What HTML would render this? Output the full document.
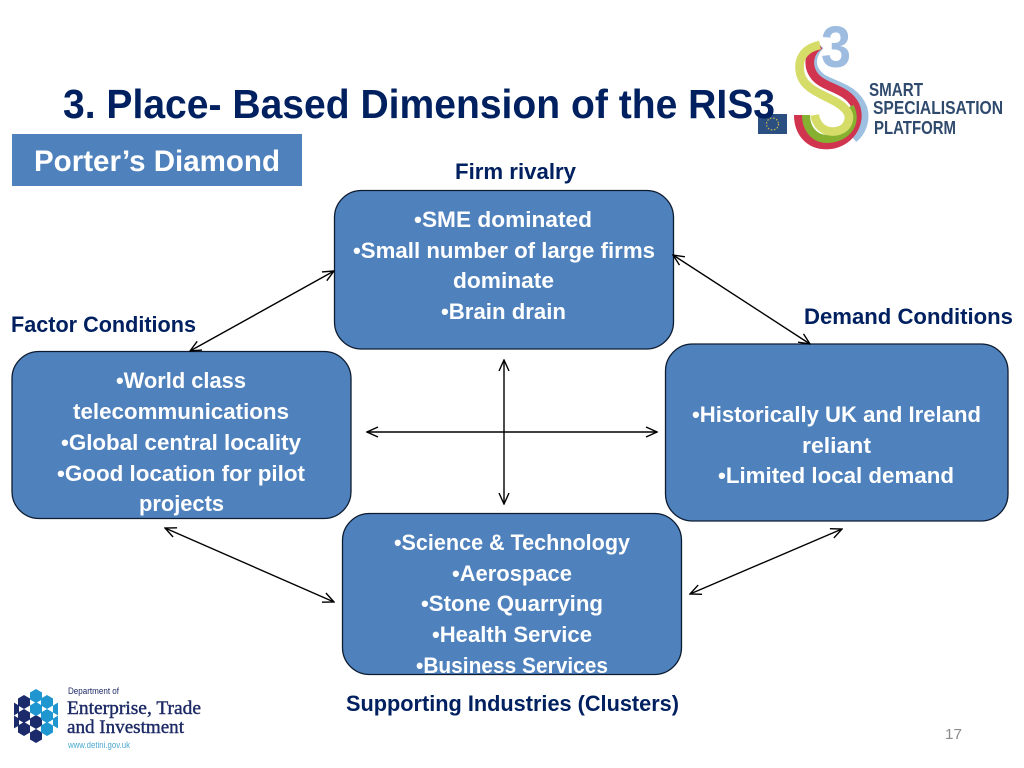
<!DOCTYPE html>
<html><head><meta charset="utf-8"><style>
html,body{margin:0;padding:0;background:#fff}
svg{display:block}
text{font-family:"Liberation Sans",sans-serif}
.b{font-weight:bold;font-size:22px;fill:#fff}
.l{font-weight:bold;font-size:22px;fill:#002060}
.box{fill:#4f81bd;stroke:#0d1c30;stroke-width:1.3}
.a{stroke:#000;stroke-width:1.4;fill:none;marker-start:url(#m);marker-end:url(#m)}
</style></head><body>
<svg width="1024" height="768" viewBox="0 0 1024 768" xmlns="http://www.w3.org/2000/svg">
<defs>
<marker id="m" viewBox="-12 -6 13 12" refX="0" refY="0" markerWidth="13" markerHeight="12" markerUnits="userSpaceOnUse" orient="auto-start-reverse">
<path d="M-11 -5 L0 0 L-11 5" fill="none" stroke="#000" stroke-width="1.4"/>
</marker>
<polygon id="h" points="0,-7 6,-3.5 6,3.5 0,7 -6,3.5 -6,-3.5"/>
<clipPath id="hc"><rect x="14" y="685" width="44" height="60"/></clipPath>
</defs>
<rect width="1024" height="768" fill="#fff"/>

<!-- S3 logo -->
<text x="821" y="67" font-size="58" font-weight="bold" fill="#9dbce0" textLength="30" lengthAdjust="spacingAndGlyphs">3</text>
<g transform="translate(740 10) scale(.33333)" fill="none">
<path d="M240 105 C212 135 205 175 245 205 C285 230 345 235 368 295 C378 330 365 365 340 385" stroke="#9dbfe0" stroke-width="28"/>
<path d="M240 105 C205 125 200 170 225 200 C255 235 320 235 345 285 C370 340 325 405 260 405 C205 405 175 365 175 315" stroke="#d0344f" stroke-width="26"/>
<path d="M330 290 C355 340 320 385 262 387 C222 387 198 355 198 315" stroke="#86b02f" stroke-width="24"/>
<path d="M240 105 C190 115 170 150 182 195 C195 240 255 255 295 280 C325 300 335 320 320 345 C300 375 235 375 224 315" stroke="#d6dc68" stroke-width="26"/>
</g>
<rect x="758" y="114" width="29" height="20" fill="#2b4f81"/>
<circle cx="772.500" cy="124" r="6" fill="none" stroke="#c9b84a" stroke-width="1.200" stroke-dasharray="1.500 1.700"/>
<g font-weight="bold" font-size="18" fill="#2f4a6d">
<text x="869" y="96" textLength="54" lengthAdjust="spacingAndGlyphs">SMART</text>
<text x="873" y="114" textLength="130" lengthAdjust="spacingAndGlyphs">SPECIALISATION</text>
<text x="874" y="134" textLength="82" lengthAdjust="spacingAndGlyphs">PLATFORM</text>
</g>

<!-- Title -->
<text x="63" y="118" font-size="41" font-weight="bold" fill="#002060" textLength="712" lengthAdjust="spacingAndGlyphs">3. Place- Based Dimension of the RIS3</text>

<rect x="12" y="134" width="290" height="52" fill="#4f81bd"/>
<text x="34" y="171" font-size="30" font-weight="bold" fill="#fff" textLength="246" lengthAdjust="spacingAndGlyphs">Porter’s Diamond</text>

<!-- Boxes -->
<rect class="box" x="334.500" y="190.500" width="339" height="158.500" rx="27"/>
<rect class="box" x="12" y="351.500" width="339" height="167" rx="27"/>
<rect class="box" x="665.500" y="344" width="342.500" height="177" rx="27"/>
<rect class="box" x="342.500" y="513.500" width="339" height="161" rx="27"/>

<!-- Box text -->
<text class="b" x="414" y="227" textLength="178" lengthAdjust="spacingAndGlyphs">•SME dominated</text>
<text class="b" x="353" y="258" textLength="302" lengthAdjust="spacingAndGlyphs">•Small number of large firms</text>
<text class="b" x="453" y="288" textLength="101" lengthAdjust="spacingAndGlyphs">dominate</text>
<text class="b" x="441" y="319" textLength="125" lengthAdjust="spacingAndGlyphs">•Brain drain</text>

<text class="b" x="116" y="388" textLength="130" lengthAdjust="spacingAndGlyphs">•World class</text>
<text class="b" x="73" y="419" textLength="216" lengthAdjust="spacingAndGlyphs">telecommunications</text>
<text class="b" x="61" y="450" textLength="240" lengthAdjust="spacingAndGlyphs">•Global central locality</text>
<text class="b" x="57" y="481" textLength="248" lengthAdjust="spacingAndGlyphs">•Good location for pilot</text>
<text class="b" x="139" y="511" textLength="85" lengthAdjust="spacingAndGlyphs">projects</text>

<text class="b" x="692" y="422" textLength="289" lengthAdjust="spacingAndGlyphs">•Historically UK and Ireland</text>
<text class="b" x="802" y="453" textLength="69" lengthAdjust="spacingAndGlyphs">reliant</text>
<text class="b" x="718" y="483" textLength="236" lengthAdjust="spacingAndGlyphs">•Limited local demand</text>

<text class="b" x="394" y="550" textLength="236" lengthAdjust="spacingAndGlyphs">•Science &amp; Technology</text>
<text class="b" x="452" y="581" textLength="120" lengthAdjust="spacingAndGlyphs">•Aerospace</text>
<text class="b" x="421" y="611" textLength="182" lengthAdjust="spacingAndGlyphs">•Stone Quarrying</text>
<text class="b" x="432" y="642" textLength="160" lengthAdjust="spacingAndGlyphs">•Health Service</text>
<text class="b" x="416" y="673" textLength="192" lengthAdjust="spacingAndGlyphs">•Business Services</text>

<!-- Labels -->
<text class="l" x="455" y="179" textLength="121" lengthAdjust="spacingAndGlyphs">Firm rivalry</text>
<text class="l" x="11" y="332" textLength="185" lengthAdjust="spacingAndGlyphs">Factor Conditions</text>
<text class="l" x="804" y="324" textLength="209" lengthAdjust="spacingAndGlyphs">Demand Conditions</text>
<text class="l" x="346" y="711" textLength="333" lengthAdjust="spacingAndGlyphs">Supporting Industries (Clusters)</text>

<!-- Arrows -->
<line class="a" x1="190" y1="351" x2="334" y2="271"/>
<line class="a" x1="673" y1="255" x2="810" y2="344"/>
<line class="a" x1="367" y1="432" x2="657" y2="432"/>
<line class="a" x1="504" y1="360" x2="504" y2="504"/>
<line class="a" x1="165" y1="528" x2="334" y2="602"/>
<line class="a" x1="690" y1="594" x2="842" y2="529"/>

<text x="945" y="739" font-size="14.500" fill="#8b8b8b" textLength="17" lengthAdjust="spacingAndGlyphs">17</text>

<!-- DETI logo -->
<g clip-path="url(#hc)">
<g fill="#1b2a6b">
<use href="#h" x="24" y="702"/><use href="#h" x="24" y="716"/><use href="#h" x="24" y="729"/>
<use href="#h" x="36" y="722"/><use href="#h" x="36" y="736"/>
<use href="#h" x="13" y="709"/><use href="#h" x="13" y="722"/>
</g>
<g fill="#1f96d0">
<use href="#h" x="36" y="696"/><use href="#h" x="36" y="709"/>
<use href="#h" x="47" y="702"/><use href="#h" x="47" y="716"/><use href="#h" x="47" y="729"/>
<use href="#h" x="59" y="709"/><use href="#h" x="59" y="722"/>
</g>
</g>
<text x="68" y="694" font-size="9" fill="#1d2a66" textLength="51" lengthAdjust="spacingAndGlyphs">Department of</text>
<text x="67" y="714" font-size="19" style="font-family:'Liberation Serif',serif" fill="#1d2a66" stroke="#1d2a66" stroke-width=".4" textLength="134" lengthAdjust="spacingAndGlyphs">Enterprise, Trade</text>
<text x="67" y="733" font-size="19" style="font-family:'Liberation Serif',serif" fill="#1d2a66" stroke="#1d2a66" stroke-width=".4" textLength="117" lengthAdjust="spacingAndGlyphs">and Investment</text>
<text x="68" y="748" font-size="9.500" fill="#4aa8cf" textLength="62" lengthAdjust="spacingAndGlyphs">www.detini.gov.uk</text>
</svg>
</body></html>
